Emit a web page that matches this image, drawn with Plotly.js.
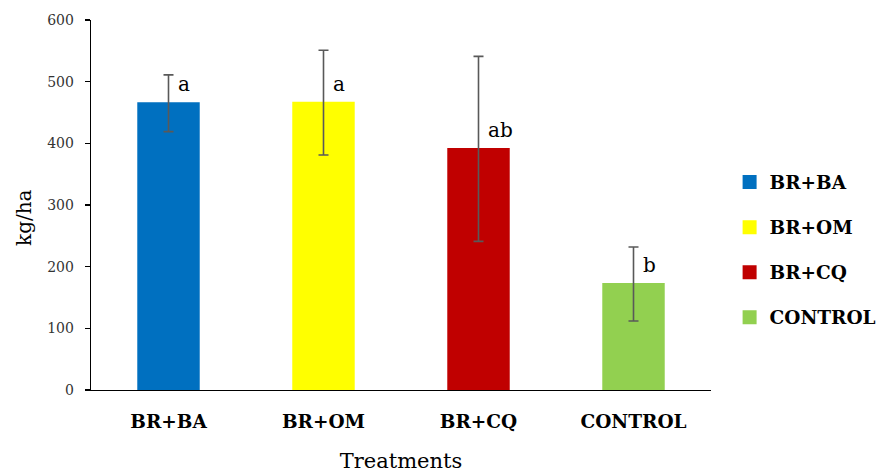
<!DOCTYPE html>
<html>
<head>
<meta charset="utf-8">
<script src="https://cdn.plot.ly/plotly-3.0.1.min.js"></script>
<style>html,body{margin:0;padding:0;background:#fff;}#chart{width:888px;height:473px;}</style>
</head>
<body>
<div id="chart"></div>
<script>
const categories = ["BR+BA", "BR+OM", "BR+CQ", "CONTROL"];
const means = [465, 466, 391, 172];
const errors = [46, 85, 150, 60];
const letters = ["a", "a", "ab", "b"];
const colors = ["#0070C0", "#FFFF00", "#C00000", "#92D050"];

const FONT = "DejaVu Serif";

const traces = categories.map((c, i) => ({
  type: "bar",
  x: [c],
  y: [means[i]],
  name: c,
  legendgroup: "g" + i,
  width: 0.39,
  marker: { color: colors[i], line: { color: colors[i], width: 2 } },
  error_y: { type: "data", array: [errors[i]], visible: true, color: "#595959", thickness: 1.6, width: 5 },
  hoverinfo: "x+y"
}));

const annotations = categories.map((c, i) => ({
  x: c, y: means[i], xref: "x", yref: "y",
  text: letters[i], showarrow: false,
  xanchor: "left", yanchor: "middle",
  xshift: 7, yshift: 19,
  font: { family: FONT, size: 20, color: "#000" }
}));

annotations.push({
  xref: "paper", yref: "paper", x: -0.108, y: 0.465,
  xanchor: "center", yanchor: "middle", textangle: -90,
  text: "kg/ha", showarrow: false,
  font: { family: FONT, size: 20, color: "#000" }
});

const layout = {
  width: 888, height: 473,
  margin: { l: 91, r: 177, t: 20, b: 83, autoexpand: false },
  paper_bgcolor: "#fff", plot_bgcolor: "#fff",
  barmode: "overlay",
  showlegend: true,
  legend: {
    x: 1.03, xanchor: "left", y: 0.612, yanchor: "top",
    font: { family: FONT, size: 18.5, color: "#000", weight: "bold" },
    traceorder: "grouped", tracegroupgap: 18,
    bgcolor: "rgba(0,0,0,0)"
  },
  xaxis: {
    type: "category",
    showline: true, linecolor: "#000", linewidth: 1.3,
    ticks: "", showgrid: false, zeroline: false,
    tickfont: { family: FONT, size: 18.5, color: "#000", weight: "bold" },
    ticklabelstandoff: 14,
    title: { text: "Treatments", font: { family: FONT, size: 21, color: "#000" }, standoff: 22 }
  },
  yaxis: {
    range: [0, 600], dtick: 100,
    showline: true, linecolor: "#000", linewidth: 1.3,
    ticks: "outside", ticklen: 5, tickwidth: 1.3, tickcolor: "#000",
    showgrid: false, zeroline: false,
    tickfont: { family: FONT, size: 14, color: "#333" },
    ticklabelstandoff: 8
  },
  annotations: annotations
};

Plotly.newPlot("chart", traces, layout, { displayModeBar: false, staticPlot: true });
</script>
</body>
</html>
